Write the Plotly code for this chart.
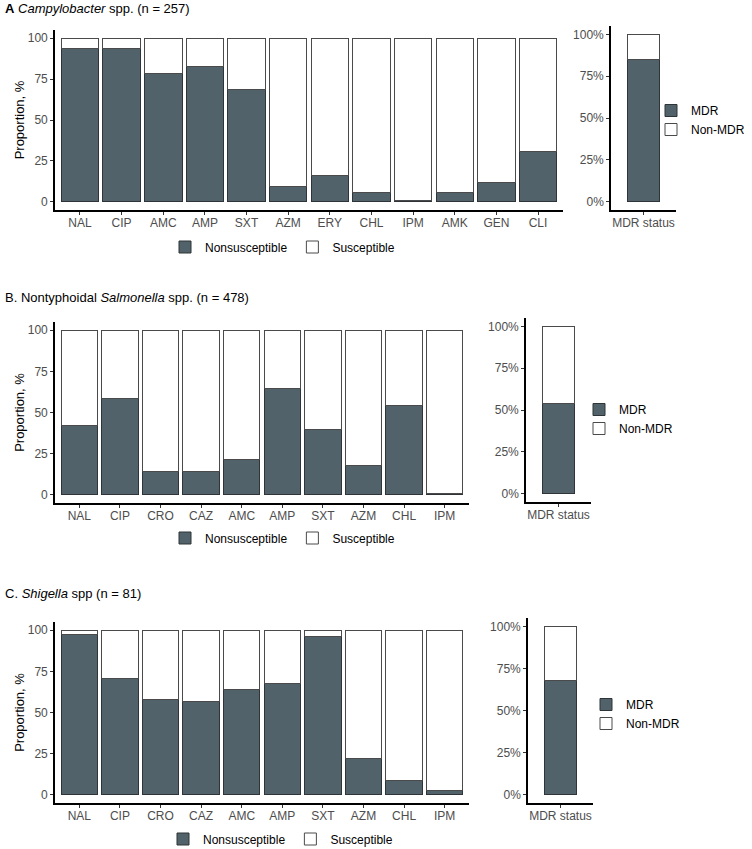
import plotly.graph_objects as go

W, H = 752, 849

# ---------------- data ----------------
camp_drugs = ["NAL", "CIP", "AMC", "AMP", "SXT", "AZM", "ERY", "CHL", "IPM", "AMK", "GEN", "CLI"]
camp_ns = [93.9, 93.9, 78.4, 82.6, 68.7, 9.5, 16.2, 5.5, 1.0, 5.5, 11.7, 30.5]
camp_mdr = 85.0

salm_drugs = ["NAL", "CIP", "CRO", "CAZ", "AMC", "AMP", "SXT", "AZM", "CHL", "IPM"]
salm_ns = [42.2, 58.6, 14.1, 14.1, 21.4, 64.6, 39.6, 17.6, 54.3, 0.8]
salm_mdr = 54.0

shig_drugs = ["NAL", "CIP", "CRO", "CAZ", "AMC", "AMP", "SXT", "AZM", "CHL", "IPM"]
shig_ns = [97.5, 70.4, 58.0, 56.8, 64.2, 67.9, 96.3, 22.2, 8.6, 2.5]
shig_mdr = 67.9

titles = [
    "<b>A</b> <i>Campylobacter</i> spp. (n = 257)",
    "B. Nontyphoidal <i>Salmonella</i> spp. (n = 478)",
    "C. <i>Shigella</i> spp (n = 81)",
]
legend_main = ["Nonsusceptible", "Susceptible"]
legend_mdr = ["MDR", "Non-MDR"]
mdr_cat = ["MDR status"]
y_ticks = [0, 25, 50, 75, 100]
y_ticktext_main = ["0", "25", "50", "75", "100"]
y_ticktext_mdr = ["0%", "25%", "50%", "75%", "100%"]

# ---------------- style ----------------
DARK = "#52626A"
EDGE_DARK = "#2E3437"
EDGE_LIGHT = "#4A4A4A"
FONT = "Liberation Sans, Arial, Helvetica, sans-serif"
TICKC = "#4D4D4D"


def px_x(a, b):
    return [a / W, b / W]


def px_y(top, bottom):
    return [1 - bottom / H, 1 - top / H]


panels = [
    dict(drugs=camp_drugs, ns=camp_ns, mdr=camp_mdr, title=titles[0], title_y=9,
         main_x=(55, 563), main_y=(30, 210), mdr_x=(611, 676), mdr_y=(26, 210),
         leg_main=(165, 247), leg_mdr=(651, 120)),
    dict(drugs=salm_drugs, ns=salm_ns, mdr=salm_mdr, title=titles[1], title_y=297,
         main_x=(55, 469), main_y=(322, 503), mdr_x=(526, 591), mdr_y=(318, 502),
         leg_main=(165, 538), leg_mdr=(579, 419)),
    dict(drugs=shig_drugs, ns=shig_ns, mdr=shig_mdr, title=titles[2], title_y=593,
         main_x=(55, 469), main_y=(622, 803), mdr_x=(528, 593), mdr_y=(618, 803),
         leg_main=(163, 839), leg_mdr=(586, 714)),
]

fig = go.Figure()
layout = dict(
    width=W, height=H, autosize=False,
    margin=dict(l=0, r=0, t=0, b=0, autoexpand=False),
    paper_bgcolor="white", plot_bgcolor="white",
    barmode="stack",
    font=dict(family=FONT, size=12, color="black"),
    annotations=[],
)

axis_common = dict(
    showline=True, linecolor="black", linewidth=1.6,
    ticks="outside", ticklen=3, tickwidth=1, tickcolor="#333333",
    showgrid=False, zeroline=False, automargin=False,
    tickfont=dict(family=FONT, size=12, color=TICKC),
    fixedrange=True,
)

for i, p in enumerate(panels):
    mi = 2 * i + 1
    di = 2 * i + 2
    xm = "x" if mi == 1 else f"x{mi}"
    ym = "y" if mi == 1 else f"y{mi}"
    xd = f"x{di}"
    yd = f"y{di}"
    lm = "legend" if i == 0 else f"legend{2 * i + 1}"
    ld = f"legend{2 * i + 2}"

    sus = [round(100 - v, 2) for v in p["ns"]]
    fig.add_trace(go.Bar(x=p["drugs"], y=p["ns"], name=legend_main[0], xaxis=xm, yaxis=ym,
                         marker=dict(color=DARK, line=dict(color=EDGE_DARK, width=1)),
                         width=0.9, legend=lm))
    fig.add_trace(go.Bar(x=p["drugs"], y=sus, name=legend_main[1], xaxis=xm, yaxis=ym,
                         marker=dict(color="white", line=dict(color=EDGE_LIGHT, width=1)),
                         width=0.9, legend=lm))
    fig.add_trace(go.Bar(x=mdr_cat, y=[p["mdr"]], name=legend_mdr[0], xaxis=xd, yaxis=yd,
                         marker=dict(color=DARK, line=dict(color=EDGE_DARK, width=1)),
                         width=1.0, legend=ld))
    fig.add_trace(go.Bar(x=mdr_cat, y=[round(100 - p["mdr"], 2)], name=legend_mdr[1], xaxis=xd, yaxis=yd,
                         marker=dict(color="white", line=dict(color=EDGE_LIGHT, width=1)),
                         width=1.0, legend=ld))

    n = len(p["drugs"])
    layout[("xaxis" if mi == 1 else f"xaxis{mi}")] = dict(
        axis_common, domain=px_x(*p["main_x"]), anchor=ym,
        range=[-0.6, n - 0.4], type="category", ticklabelstandoff=-2)
    layout[("yaxis" if mi == 1 else f"yaxis{mi}")] = dict(
        axis_common, domain=px_y(*p["main_y"]), anchor=xm,
        range=[-5, 105], tickmode="array", tickvals=y_ticks, ticktext=y_ticktext_main,
        title=dict(text="Proportion, %", font=dict(family=FONT, size=13, color="black"), standoff=0))
    layout[f"xaxis{di}"] = dict(
        axis_common, domain=px_x(*p["mdr_x"]), anchor=yd,
        range=[-1, 1], type="category", ticklabelstandoff=-2)
    layout[f"yaxis{di}"] = dict(
        axis_common, domain=px_y(*p["mdr_y"]), anchor=xd,
        range=[-5, 105], tickmode="array", tickvals=y_ticks, ticktext=y_ticktext_mdr)

    layout[lm] = dict(
        orientation="h", x=p["leg_main"][0] / W, y=1 - p["leg_main"][1] / H,
        xanchor="left", yanchor="middle", traceorder="normal",
        font=dict(family=FONT, size=12, color="black"), bgcolor="rgba(0,0,0,0)",
        itemclick=False, itemdoubleclick=False)
    layout[ld] = dict(
        orientation="v", x=p["leg_mdr"][0] / W, y=1 - p["leg_mdr"][1] / H,
        xanchor="left", yanchor="middle", traceorder="normal",
        font=dict(family=FONT, size=12, color="black"), bgcolor="rgba(0,0,0,0)",
        itemclick=False, itemdoubleclick=False)

    layout["annotations"].append(dict(
        text=p["title"], xref="paper", yref="paper", x=3 / W, y=1 - p["title_y"] / H,
        xanchor="left", yanchor="middle", showarrow=False,
        font=dict(family=FONT, size=13, color="black")))

fig.update_layout(**layout)
# remove the browser's default 8px page margin so the figure sits at the window origin
fig.write_html("out.html", config={"displayModeBar": False},
               post_script="document.body.style.margin='0';")
